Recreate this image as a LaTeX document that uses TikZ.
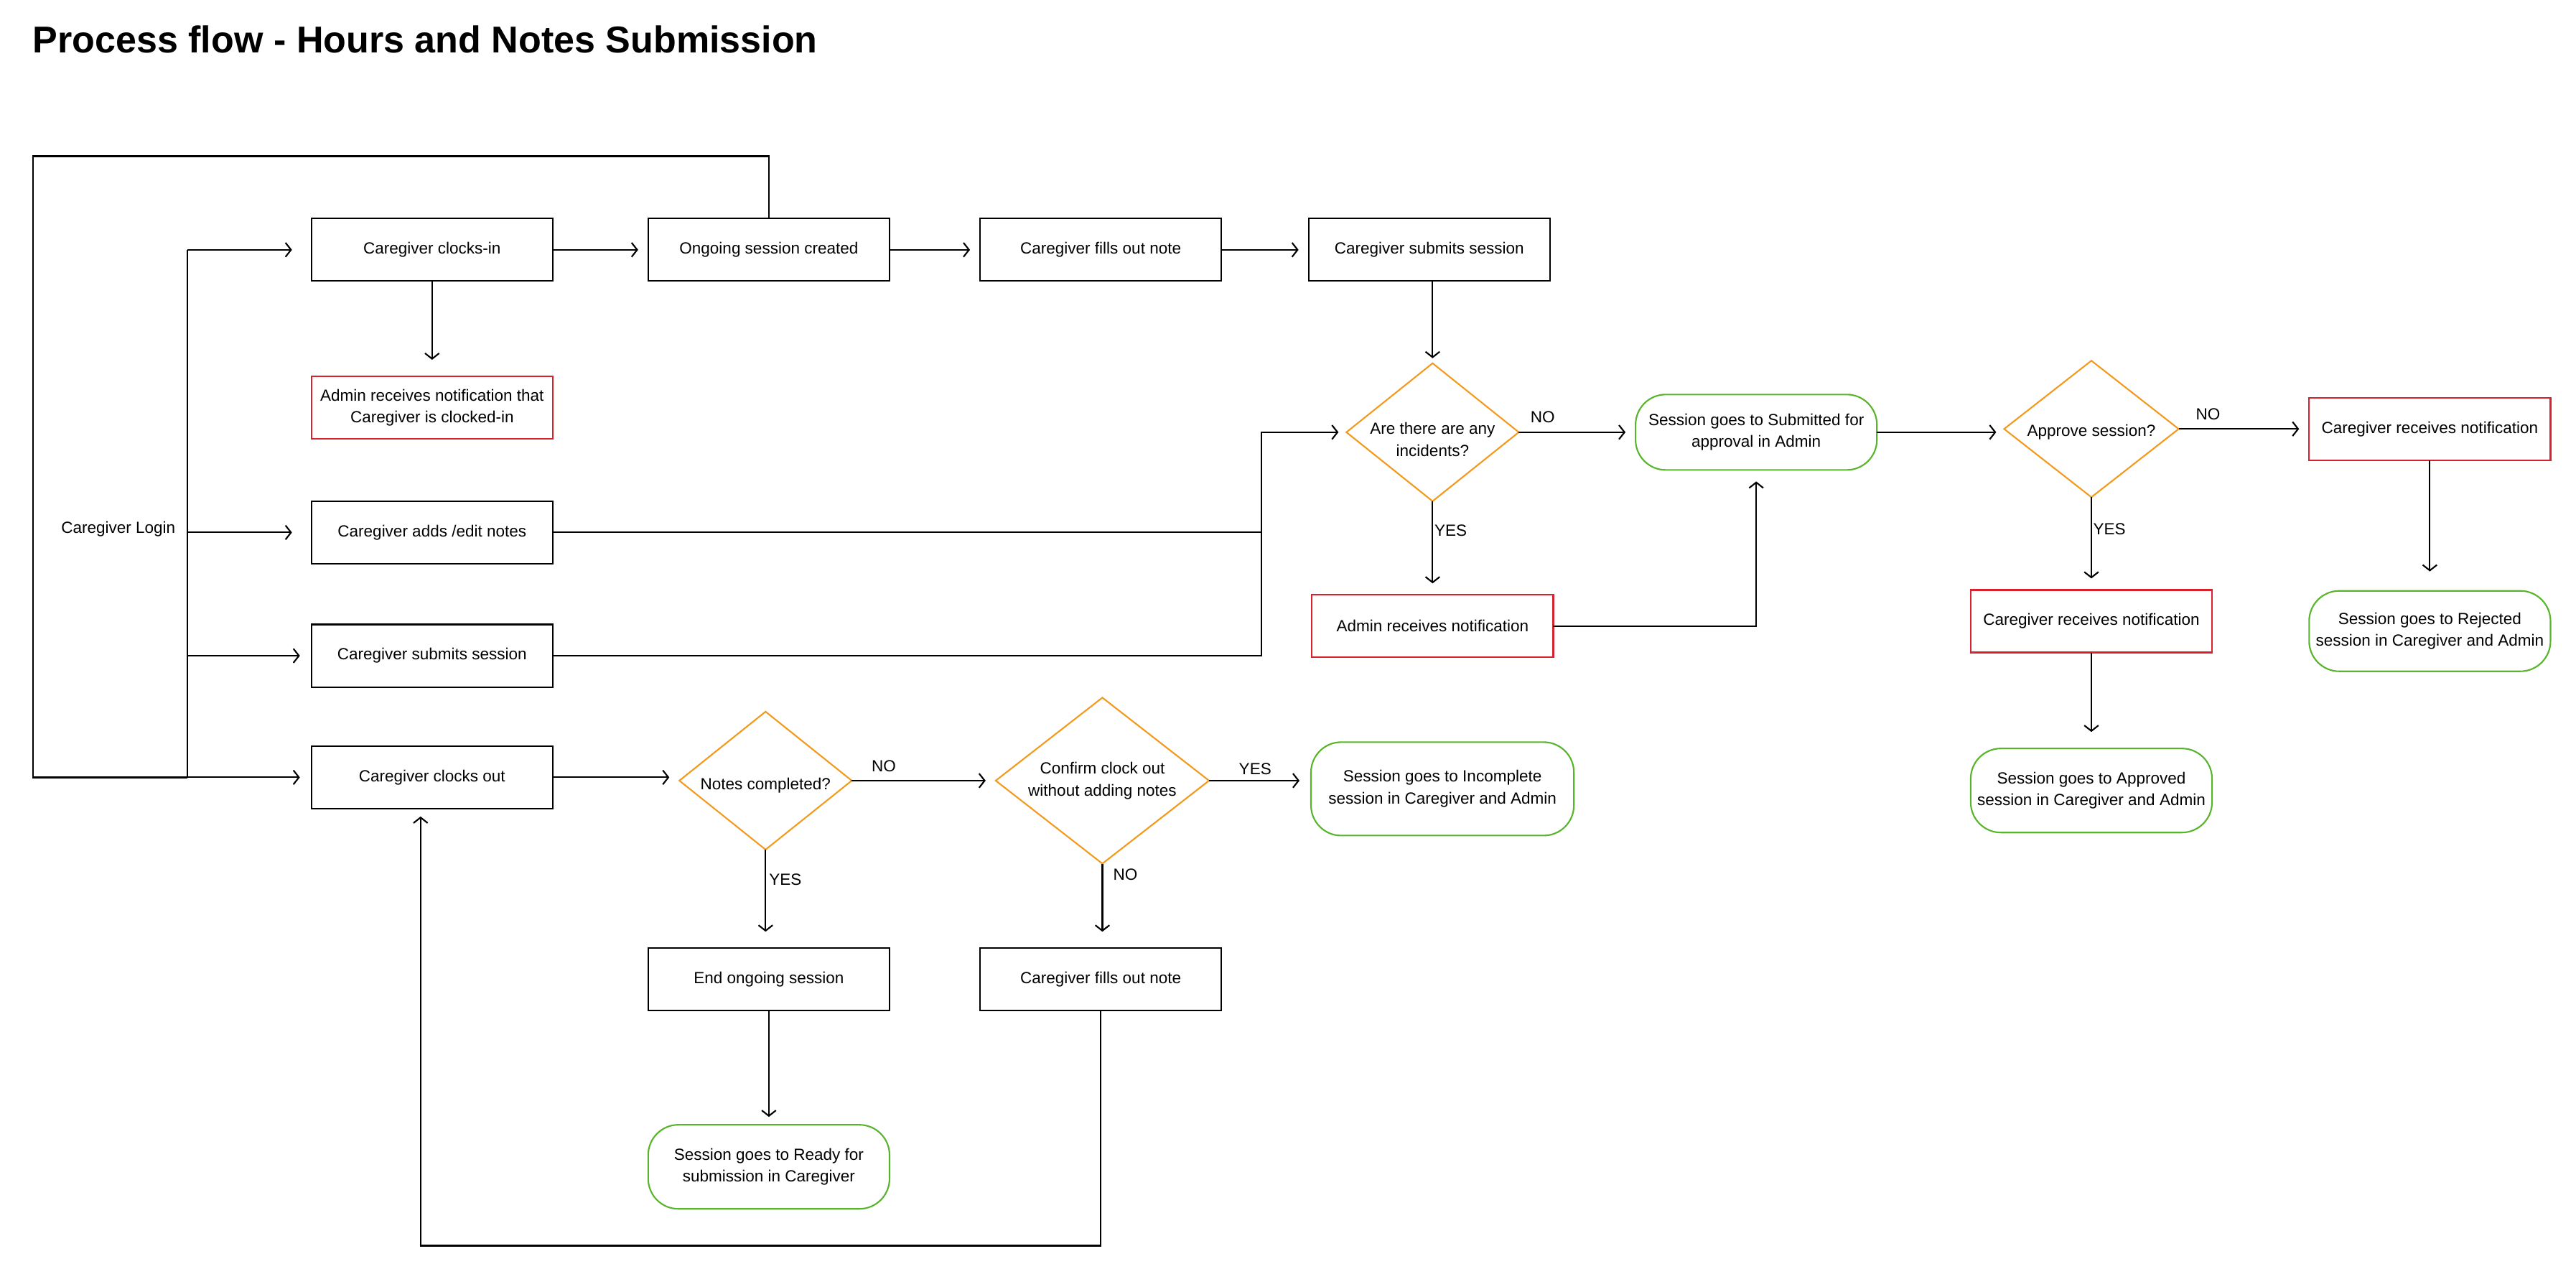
\documentclass[tikz,border=0pt]{standalone}
\usepackage{fontspec}
\setmainfont{Liberation Sans}
\usetikzlibrary{shapes.geometric,arrows.meta,calc}
\definecolor{redb}{HTML}{D8232E}
\definecolor{orangeb}{HTML}{F39A1E}
\definecolor{greenb}{HTML}{58B42A}
\begin{document}
\begin{tikzpicture}[x=0.02288cm,y=-0.02288cm,
  every node/.style={font=\fontsize{6.4}{8.7}\selectfont, align=center, inner sep=0pt, outer sep=0pt},
  box/.style={draw=black, line width=0.6pt, minimum width=3.36cm, minimum height=0.87cm},
  redbox/.style={box, draw=redb},
  endbox/.style={draw=greenb, line width=0.6pt, rounded corners=0.42cm, minimum width=3.36cm, minimum height=1.12cm},
  decision/.style={diamond, draw=orangeb, line width=0.6pt, minimum width=2.4cm, minimum height=1.92cm},
  ln/.style={line width=0.6pt},
  arr/.style={line width=0.6pt, -{Straight Barb[length=2.2pt,width=5.6pt,line width=0.6pt]}, shorten >=0.14cm},
  lab/.style={font=\fontsize{6.4}{7}\selectfont}
]
\useasboundingbox (0,0) rectangle (1568,769);

\node[anchor=base west, font=\bfseries\fontsize{14.8}{17}\selectfont] (title) at (20,32.3) {Process flow - Hours and Notes Submission};

\node (login) at (72,322) {Caregiver Login};

% top row
\node[box] (clockin) at (263,152) {Caregiver clocks-in};
\node[box] (ongoing) at (468,152) {Ongoing session created};
\node[box] (fill1) at (670,152) {Caregiver fills out note};
\node[box] (submit1) at (870,152) {Caregiver submits session};
\node[redbox] (adminci) at (263,248) {Admin receives notification that\\Caregiver is clocked-in};
\node[box] (addedit) at (263,324) {Caregiver adds /edit notes};
\node[box] (submit2) at (263,399) {Caregiver submits session};
\node[box] (clockout) at (263,473) {Caregiver clocks out};

% incidents branch
\node[decision, label={[yshift=-0.1cm]center:{Are there are any\\incidents?}}] (incid) at (872,263) {};
\node[endbox, minimum height=1.05cm] (subm) at (1069,263) {Session goes to Submitted for\\approval in Admin};
\node[redbox] (adminN) at (872,381) {Admin receives notification};
\node[decision, minimum width=2.43cm, minimum height=1.9cm, label={[yshift=-0.04cm]center:{Approve session?}}] (approve) at (1273,261) {};
\node[redbox] (cgR) at (1479,261) {Caregiver receives notification};
\node[redbox] (cgA) at (1273,378) {Caregiver receives notification};
\node[endbox] (rej) at (1479,384) {Session goes to Rejected\\session in Caregiver and Admin};
\node[endbox, minimum height=1.17cm] (appr) at (1273,481) {Session goes to Approved\\session in Caregiver and Admin};

% clock out branch
\node[decision, label={[yshift=-0.07cm]center:{Notes completed?}}] (notes) at (466,475) {};
\node[decision, minimum width=2.97cm, minimum height=2.31cm, label={center:{Confirm clock out\\without adding notes}}] (confirm) at (671,475) {};
\node[endbox, minimum width=3.66cm, minimum height=1.30cm] (incomp) at (878,480) {Session goes to Incomplete\\session in Caregiver and Admin};
\node[box] (endong) at (468,596) {End ongoing session};
\node[box] (fill2) at (670,596) {Caregiver fills out note};
\node[endbox, minimum height=1.17cm] (ready) at (468,710) {Session goes to Ready for\\submission in Caregiver};

% labels
\node[lab] (no1) at (939,254) {NO};
\node[lab] (yes1) at (883,323) {YES};
\node[lab] (no2) at (1344,252) {NO};
\node[lab] (yes2) at (1284,322) {YES};
\node[lab] (no3) at (538,466) {NO};
\node[lab] (yes3) at (764,468) {YES};
\node[lab] (yes4) at (478,535) {YES};
\node[lab] (no4) at (685,532) {NO};

% bus and loop
\coordinate (b1) at (114,152);
\coordinate (b4) at (114,473);
\coordinate (lb) at (20,473);
\coordinate (lt) at (20,95);
\draw[ln, line width=0.7pt] (b1) -- (b4);
\draw[ln, line width=0.7pt] (b4) -- (lb) -- (lt) -| (ongoing.north);
\draw[arr, shorten >=0.27cm] (b1) -- (clockin.west);
\draw[arr, shorten >=0.27cm] (b1 |- addedit.west) -- (addedit.west);
\draw[arr, shorten >=0.16cm] (b1 |- submit2.west) -- (submit2.west);
\draw[arr, shorten >=0.16cm] (b4) -- (clockout.west);

% top row connectors
\draw[arr] (clockin.east) -- (ongoing.west);
\draw[arr] (ongoing.east) -- (fill1.west);
\draw[arr] (fill1.east) -- (submit1.west);
\draw[arr, shorten >=0.07cm] (incid.north |- submit1.south) -- (incid.north);
\draw[arr, shorten >=0.23cm] (clockin.south) -- (adminci.north);

% adds/edit and submit to incidents
\coordinate (jx) at (768,324);
\draw[arr, shorten >=0.11cm] (addedit.east) -- (jx) |- (incid.west);
\draw[ln] (submit2.east) -| (jx);

% incidents branch connectors
\draw[arr] (incid.east) -- (subm.west);
\draw[arr, shorten >=0.16cm] (incid.south) -- (adminN.north);
\draw[arr, shorten >=0.16cm] (adminN.east) -| (subm.south);
\draw[arr, shorten >=0.11cm] (subm.east) -- (subm.east -| approve.west);
\draw[arr] (approve.east) -- (cgR.west);
\draw[arr, shorten >=0.16cm] (approve.south) -- (cgA.north);
\draw[arr, shorten >=0.23cm] (cgA.south) -- (appr.north);
\draw[arr, shorten >=0.27cm] (cgR.south) -- (rej.north);

% clock out branch connectors
\draw[arr] (clockout.east) -- (clockout.east -| notes.west);
\draw[arr] (notes.east) -- (confirm.west);
\draw[arr, shorten >=0.16cm] (confirm.east) -- (confirm.east -| incomp.west);
\draw[arr, shorten >=0.23cm] (notes.south) -- (notes.south |- endong.north);
\draw[arr, shorten >=0.23cm] (confirm.south) -- (confirm.south |- fill2.north);
\draw[arr, shorten >=0.11cm] (endong.south) -- (ready.north);
\coordinate (cb) at (256,758);
\draw[arr, shorten >=0.11cm] (fill2.south) |- (cb) -- (cb |- clockout.south);
\end{tikzpicture}
\end{document}
